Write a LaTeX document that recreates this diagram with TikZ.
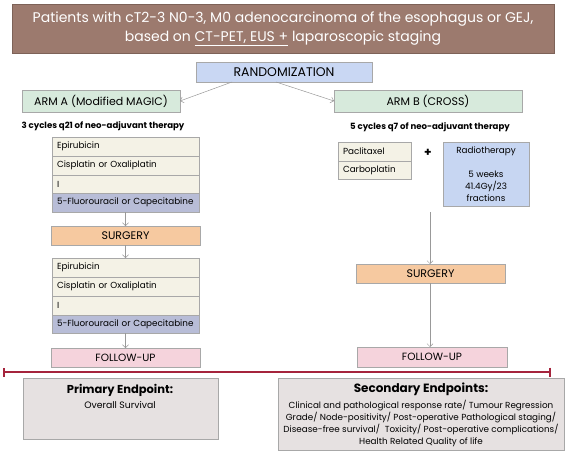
\documentclass[tikz,border=0pt]{standalone}
\usepackage{fontspec}
\setmainfont{Poppins}
\usetikzlibrary{arrows.meta}
\definecolor{titlebg}{HTML}{9C7A6E}
\definecolor{randbg}{HTML}{C9D7F3}
\definecolor{armbg}{HTML}{D7EADC}
\definecolor{rowbg}{HTML}{F4F2E6}
\definecolor{fubg}{HTML}{B8BDD7}
\definecolor{surgbg}{HTML}{F6C9A0}
\definecolor{follbg}{HTML}{F5D3DC}
\definecolor{radbg}{HTML}{C7D6F2}
\definecolor{endbg}{HTML}{E6E1E1}
\definecolor{bord}{HTML}{A8A8A8}
\definecolor{redline}{HTML}{A5243C}
\newcommand\bx[7]{\node[#6, minimum width={#4-#2}, minimum height={#5-#3}] (#1) at ({(#2+#4)/2},{-(#3+#5)/2}) {#7};}
\newcommand\rw[7]{\node[#6, text width={#4-#2-10}, minimum height={#5-#3}] (#1) at ({(#2+#4)/2},{-(#3+#5)/2}) {#7};}
\begin{document}
\begin{tikzpicture}[x=1pt,y=1pt,
  base/.style={draw=bord, line width=0.6pt, inner sep=0pt, outer sep=0pt, anchor=center},
  rowbox/.style={base, fill=rowbg, align=left, inner xsep=5pt, font=\fontsize{8.8}{10}\selectfont},
  furow/.style={rowbox, fill=fubg},
  arr/.style={draw=gray!80, line width=0.5pt, -{Straight Barb[length=3pt,width=6pt]}},
  lbl/.style={font=\fontsize{10.5}{12}\selectfont}]
\useasboundingbox (0,0) rectangle (567,-452);
% title
\bx{title}{12}{4}{554}{53}{base, draw=titlebg!80!black, fill=titlebg, text=white, align=center, font=\fontsize{14}{19}\selectfont}{Patients with cT2-3 N0-3, M0 adenocarcinoma of the esophagus or GEJ,\\ based on \underline{CT-PET, EUS +} laparoscopic staging}
% randomization
\bx{rand}{196}{62}{372}{82}{base, fill=randbg, font=\fontsize{12.5}{14}\selectfont}{RANDOMIZATION}
\bx{armA}{22}{90}{180}{112}{base, fill=armbg, font=\fontsize{11}{13}\selectfont}{ARM A (Modified MAGIC)}
\bx{armB}{334}{90}{522}{112}{base, fill=armbg, font=\fontsize{11}{13}\selectfont}{ARM B (CROSS)}
\draw[arr] (232,-82) coordinate (ra) -- (armA.east);
\draw[arr] (276,-82) coordinate (rb) -- (armB.west);
% left arm
\node[font=\fontsize{8.6}{10}\selectfont\bfseries] (cycA) at (103,-126) {3 cycles q21 of neo-adjuvant therapy};
\rw{a1}{52}{137}{199}{156}{rowbox}{Epirubicin}
\rw{a2}{52}{156}{199}{175}{rowbox}{Cisplatin or Oxaliplatin}
\rw{a3}{52}{175}{199}{193}{rowbox}{I}
\rw{a4}{52}{193}{199}{212}{furow}{5-Fluorouracil or Capecitabine}
\bx{surgA}{51}{226}{200}{245}{base, fill=surgbg, font=\fontsize{11}{13}\selectfont}{SURGERY}
\rw{b1}{52}{258}{199}{277}{rowbox}{Epirubicin}
\rw{b2}{52}{277}{199}{296}{rowbox}{Cisplatin or Oxaliplatin}
\rw{b3}{52}{296}{199}{315}{rowbox}{I}
\rw{b4}{52}{315}{199}{333}{furow}{5-Fluorouracil or Capecitabine}
\bx{follA}{51}{348}{200}{367}{base, fill=follbg, lbl}{FOLLOW-UP}
\draw[arr] (a4.south) -- (surgA.north);
\draw[arr] (surgA.south) -- (b1.north);
\draw[arr] (b4.south) -- (follA.north);
% right arm
\node[font=\fontsize{8.6}{10}\selectfont\bfseries] (cycB) at (430,-127) {5 cycles q7 of neo-adjuvant therapy};
\rw{p1}{338}{142}{411}{161}{rowbox}{Paclitaxel}
\rw{p2}{338}{161}{411}{179}{rowbox}{Carboplatin}
\node[font=\fontsize{12}{14}\selectfont\bfseries] (plus) at (428,-153) {+};
\bx{rad}{443}{142}{529}{206}{base, fill=radbg, align=center, font=\fontsize{8.8}{12}\selectfont}{Radiotherapy\\[12pt]5 weeks\\41.4Gy/23\\fractions}
\bx{surgB}{356}{264}{505}{283}{base, fill=surgbg, font=\fontsize{11}{13}\selectfont}{SURGERY}
\bx{follB}{357}{347}{507}{367}{base, fill=follbg, lbl}{FOLLOW-UP}
\coordinate (radout) at (430,-212);
\draw[arr] (radout) -- (surgB.north -| radout);
\draw[arr] (surgB.south -| radout) -- (follB.north -| radout);
% red timeline
\coordinate (tl) at (3,-372);
\coordinate (tr) at (551,-372);
\draw[redline, line width=1.6pt, {Bar[width=9pt]}-{Bar[width=9pt]}] (tl) -- (tr);
% endpoints
\bx{prim}{23}{378}{218}{439}{base, fill=endbg}{}
\node[font=\fontsize{11.5}{13}\selectfont\bfseries] (primT) at (120,-390) {Primary Endpoint:};
\node[font=\fontsize{9.3}{10}\selectfont] (primS) at (120,-405) {Overall Survival};
\bx{sec}{278}{378}{564}{450}{base, fill=endbg}{}
\node[font=\fontsize{12}{13}\selectfont\bfseries] (secT) at (421,-389) {Secondary Endpoints:};
\node[font=\fontsize{8.8}{11.8}\selectfont, align=center, anchor=north] (secS) at (421,-397) {Clinical and pathological response rate/ Tumour Regression\\Grade/ Node-positivity/ Post-operative Pathological staging/\\Disease-free survival/\ \ Toxicity/ Post-operative complications/\\Health Related Quality of life};
\end{tikzpicture}
\end{document}
